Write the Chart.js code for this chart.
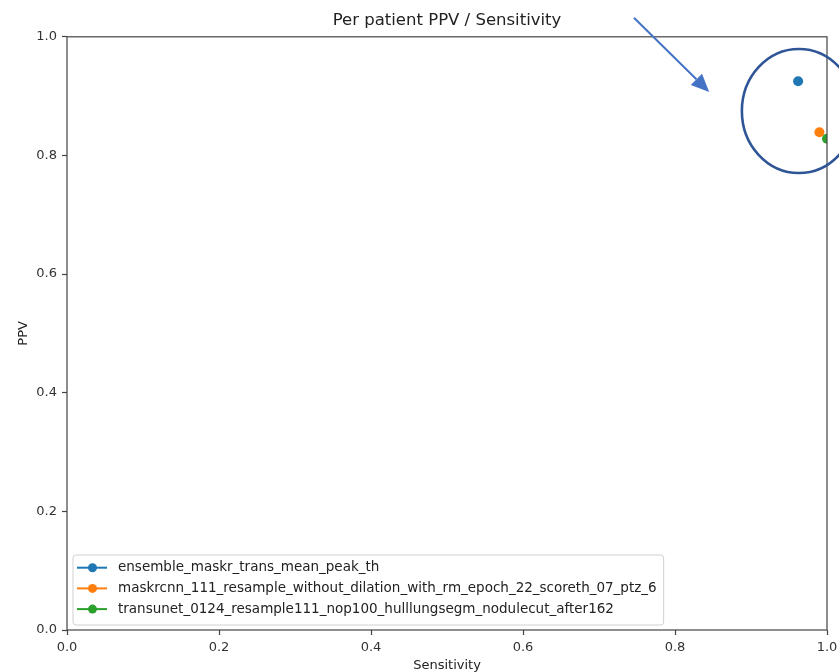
<!DOCTYPE html>
<html>
<head>
<meta charset="utf-8">
<script src="https://cdn.jsdelivr.net/npm/chart.js@4.4.1/dist/chart.umd.min.js"></script>
<style>
    html, body { margin: 0; padding: 0; background: #fff; }
    #wrap { width: 839px; height: 672px; }
</style>
</head>
<body>
<div id="wrap"><canvas id="chart"></canvas></div>
<script>
const seriesNames = [
    "ensemble_maskr_trans_mean_peak_th",
    "maskrcnn_111_resample_without_dilation_with_rm_epoch_22_scoreth_07_ptz_6",
    "transunet_0124_resample111_nop100_hulllungsegm_nodulecut_after162"
];
const sensitivity = [0.962, 0.990, 1.0];
const ppv = [0.925, 0.839, 0.828];
const seriesColors = ["#1f77b4", "#ff7f0e", "#2ca02c"];
const axisTicks = [0, 0.2, 0.4, 0.6, 0.8, 1.0];

// callout drawn on top: ellipse around the top-right points and an arrow pointing at it (data units)
const highlight = { cx: 0.963, cy: 0.875, rx: 0.075, ry: 0.1045 };
const pointer = { from: [0.746, 1.032], to: [0.845, 0.907] };

const FONT = "'DejaVu Sans', sans-serif";
const spineColor = "#444";

const frame = {
    id: "frame",
    afterDatasetsDraw(chart) {
        const { ctx, chartArea: a } = chart;
        ctx.save();
        ctx.strokeStyle = spineColor;
        ctx.lineWidth = 1.2;
        ctx.strokeRect(a.left, a.top, a.right - a.left, a.bottom - a.top);
        ctx.restore();
    }
};

const insetLegend = {
    id: "insetLegend",
    afterDatasetsDraw(chart) {
        const { ctx, chartArea: a } = chart;
        ctx.save();
        ctx.font = `13.5px ${FONT}`;
        const rowH = 20.7;
        const textW = Math.max(...seriesNames.map(n => ctx.measureText(n).width));
        const w = 45 + textW + 7, h = 70;
        const x = a.left + 6, y = a.bottom - 5 - h;
        ctx.fillStyle = "rgba(255,255,255,0.8)";
        ctx.strokeStyle = "#d0d0d0";
        ctx.lineWidth = 1;
        ctx.beginPath();
        ctx.roundRect(x, y, w, h, 3);
        ctx.fill();
        ctx.stroke();
        seriesNames.forEach((name, i) => {
            const cy = y + 12.7 + i * rowH;
            ctx.strokeStyle = seriesColors[i];
            ctx.lineWidth = 2;
            ctx.beginPath();
            ctx.moveTo(x + 4, cy);
            ctx.lineTo(x + 34, cy);
            ctx.stroke();
            ctx.fillStyle = seriesColors[i];
            ctx.beginPath();
            ctx.arc(x + 19.5, cy, 4.5, 0, Math.PI * 2);
            ctx.fill();
            ctx.fillStyle = "#222";
            ctx.textBaseline = "middle";
            ctx.fillText(name, x + 45, cy);
        });
        ctx.restore();
    }
};

const callout = {
    id: "callout",
    afterDraw(chart) {
        const { ctx, scales: { x, y } } = chart;
        ctx.save();
        // ellipse
        const cx = x.getPixelForValue(highlight.cx), cy = y.getPixelForValue(highlight.cy);
        const rx = x.getPixelForValue(highlight.cx + highlight.rx) - cx;
        const ry = cy - y.getPixelForValue(highlight.cy + highlight.ry);
        ctx.strokeStyle = "#2f5597";
        ctx.lineWidth = 2.6;
        ctx.beginPath();
        ctx.ellipse(cx, cy, rx, ry, 0, 0, Math.PI * 2);
        ctx.stroke();
        // arrow
        const x0 = x.getPixelForValue(pointer.from[0]), y0 = y.getPixelForValue(pointer.from[1]);
        const x1 = x.getPixelForValue(pointer.to[0]), y1 = y.getPixelForValue(pointer.to[1]);
        const ang = Math.atan2(y1 - y0, x1 - x0);
        const headL = 18, headW = 8;
        const bx = x1 - headL * Math.cos(ang), by = y1 - headL * Math.sin(ang);
        ctx.strokeStyle = ctx.fillStyle = "#4472c4";
        ctx.lineWidth = 2;
        ctx.beginPath();
        ctx.moveTo(x0, y0);
        ctx.lineTo(bx, by);
        ctx.stroke();
        ctx.beginPath();
        ctx.moveTo(x1, y1);
        ctx.lineTo(bx + headW * Math.sin(ang), by - headW * Math.cos(ang));
        ctx.lineTo(bx - headW * Math.sin(ang), by + headW * Math.cos(ang));
        ctx.closePath();
        ctx.fill();
        ctx.restore();
    }
};

const axisCommon = {
    min: 0,
    max: 1,
    afterBuildTicks: scale => { scale.ticks = axisTicks.map(v => ({ value: v })); },
    border: { display: false },
    grid: { drawOnChartArea: false, drawTicks: true, tickLength: 5, color: spineColor, tickWidth: 1.2 },
    ticks: { color: "#333", font: { family: FONT, size: 13 }, callback: v => v.toFixed(1) }
};

new Chart(document.getElementById("chart"), {
    type: "scatter",
    data: {
        datasets: seriesNames.map((name, i) => ({
            label: name,
            data: [{ x: sensitivity[i], y: ppv[i] }],
            backgroundColor: seriesColors[i],
            borderColor: seriesColors[i],
            pointRadius: 5,
            pointBorderWidth: 0
        }))
    },
    options: {
        responsive: true,
        maintainAspectRatio: false,
        animation: false,
        layout: { padding: { left: 0, right: 12, top: 0, bottom: 0 } },
        plugins: {
            legend: { display: false },
            tooltip: { enabled: false },
            title: {
                display: true,
                fullSize: false,
                text: "Per patient PPV / Sensitivity",
                color: "#222",
                font: { family: FONT, size: 16.5, weight: "normal" },
                padding: { top: 11, bottom: 6 }
            }
        },
        scales: {
            x: {
                ...axisCommon,
                type: "linear",
                afterFit: scale => { scale.height = 42; scale.paddingLeft = 0; scale.paddingRight = 0; },
                ticks: { ...axisCommon.ticks, padding: 5, maxRotation: 0 },
                title: { display: true, text: "Sensitivity", color: "#222", font: { family: FONT, size: 13 }, padding: { top: 0, bottom: -1 } }
            },
            y: {
                ...axisCommon,
                type: "linear",
                afterFit: scale => { scale.width = 67; scale.paddingTop = 0; scale.paddingBottom = 0; },
                ticks: { ...axisCommon.ticks, padding: 5 },
                title: { display: true, text: "PPV", color: "#222", font: { family: FONT, size: 13 }, padding: { top: 16, bottom: 0 } }
            }
        }
    },
    plugins: [frame, insetLegend, callout]
});
</script>
</body>
</html>
